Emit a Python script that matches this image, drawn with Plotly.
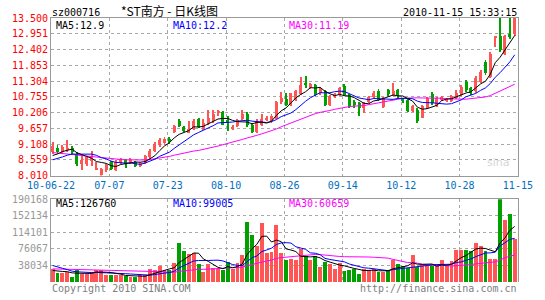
import plotly.graph_objects as go
import pandas as pd

# ---------------- data ----------------
stock_code = "sz000716"
chart_title = "*ST南方 - 日K线图"
time_stamp = "2010-11-15 15:33:15"

opens = [8.82, 8.97, 8.82, 8.91, 8.97, 8.76, 8.40, 8.40, 8.53, 8.22,
         8.04, 8.19, 8.48, 8.22, 8.48, 8.56, 8.48, 8.48, 8.36, 8.49,
         8.65, 8.87, 9.07, 9.14, 9.27, 9.53, 9.90, 9.69, 9.51, 9.62,
         9.97, 9.62, 9.85, 9.91, 10.20, 10.22, 9.93, 9.65, 9.74, 9.97,
         10.17, 9.79, 9.53, 9.77, 9.97, 9.91, 9.99, 10.56, 10.68, 10.48,
         10.65, 10.86, 11.20, 11.09, 11.17, 10.88, 10.94, 10.48, 10.77, 10.82,
         11.13, 10.82, 10.56, 10.54, 10.37, 10.59, 10.74, 10.96, 10.40, 11.00,
         10.82, 11.00, 10.68, 10.65, 10.25, 10.31, 10.03, 10.37, 10.85, 10.45,
         10.65, 10.63, 10.62, 10.71, 10.82, 11.28, 11.05, 10.94, 11.28, 11.97,
         11.45, 12.83, 12.88, 12.23, 12.94, 12.94]
highs = [9.18, 9.07, 9.07, 9.26, 9.03, 8.83, 8.71, 8.70, 8.86, 8.48,
         8.28, 8.42, 8.52, 8.56, 8.63, 8.59, 8.63, 8.52, 8.49, 8.73,
         8.94, 9.18, 9.31, 9.35, 9.37, 9.76, 9.97, 9.73, 9.91, 9.97,
         10.03, 9.97, 10.28, 10.31, 10.31, 10.27, 10.08, 9.79, 9.97, 10.31,
         10.24, 9.83, 9.97, 10.16, 10.07, 10.14, 10.62, 10.93, 10.88, 10.90,
         11.00, 11.45, 11.48, 11.24, 11.20, 11.10, 11.00, 10.82, 10.89, 11.10,
         11.20, 10.86, 10.65, 10.58, 10.58, 10.79, 10.96, 11.03, 10.75, 11.03,
         11.25, 11.03, 10.72, 10.69, 10.48, 10.38, 10.48, 10.75, 10.93, 10.75,
         10.79, 10.72, 10.82, 11.00, 11.17, 11.34, 11.10, 11.48, 11.68, 12.02,
         12.30, 12.87, 13.50, 12.92, 13.50, 13.50]
lows = [8.76, 8.76, 8.76, 8.82, 8.76, 8.35, 8.19, 8.35, 8.36, 8.19,
        8.01, 8.15, 8.22, 8.18, 8.42, 8.28, 8.42, 8.32, 8.32, 8.42,
        8.59, 8.83, 9.00, 9.07, 9.11, 9.49, 9.69, 9.52, 9.49, 9.59,
        9.66, 9.59, 9.79, 9.86, 10.08, 9.76, 9.56, 9.60, 9.69, 9.93,
        9.69, 9.49, 9.49, 9.73, 9.90, 9.86, 9.97, 10.51, 10.45, 10.45,
        10.62, 10.82, 11.05, 11.03, 10.79, 10.82, 10.45, 10.45, 10.72, 10.79,
        10.79, 10.38, 10.37, 10.08, 10.20, 10.55, 10.69, 10.62, 10.38, 10.79,
        10.79, 10.72, 10.55, 10.21, 10.21, 9.86, 10.00, 10.34, 10.48, 10.41,
        10.62, 10.58, 10.58, 10.69, 10.79, 10.93, 10.82, 10.89, 11.24, 11.51,
        11.41, 12.48, 12.30, 12.20, 12.78, 12.88]
closes = [9.05, 8.82, 9.02, 8.96, 8.82, 8.40, 8.56, 8.65, 8.65, 8.24,
          8.25, 8.39, 8.25, 8.50, 8.59, 8.40, 8.57, 8.36, 8.46, 8.70,
          8.88, 9.11, 9.25, 9.28, 9.25, 9.73, 9.73, 9.56, 9.62, 9.91,
          9.69, 9.86, 10.00, 10.14, 10.22, 9.79, 9.85, 9.67, 9.93, 10.17,
          9.76, 9.54, 9.91, 9.97, 10.02, 10.08, 10.56, 10.71, 10.48, 10.88,
          10.94, 11.17, 11.18, 11.20, 10.82, 11.05, 10.48, 10.77, 10.85, 11.05,
          10.82, 10.42, 10.50, 10.37, 10.54, 10.74, 10.90, 10.65, 10.71, 10.86,
          10.96, 10.77, 10.62, 10.25, 10.42, 9.91, 10.42, 10.71, 10.54, 10.71,
          10.74, 10.68, 10.77, 10.88, 11.11, 11.00, 10.88, 11.42, 11.62, 11.57,
          12.25, 12.86, 12.37, 12.88, 12.85, 13.49]
volumes = [30200, 20400, 20400, 22700, 11350, 26500, 18900, 18900, 22700, 28000,
           28000, 15100, 15100, 15100, 16600, 12900, 11350, 11350, 15100, 15100,
           30200, 28000, 36300, 28000, 28000, 43100, 89200, 69700, 64300, 66500,
           41600, 22700, 41600, 32500, 30200, 26500, 45400, 30200, 43900, 62000,
           136200, 108300, 83300, 134000, 65800, 68100, 130000, 65800, 50700, 52900,
           50700, 75700, 58300, 50700, 58300, 34000, 45400, 41600, 30200, 43100,
           25000, 27300, 30200, 18900, 30200, 26500, 30200, 22700, 22700, 27300,
           49200, 41600, 35600, 32500, 61300, 34000, 40100, 35600, 35600, 35600,
           49200, 35600, 48400, 73300, 74000, 72000, 71000, 88600, 83300, 70400,
           52900, 52000, 190168, 141500, 156700, 98300]

# sessions before the visible window (estimated so the MA lines start where the picture shows)
prior_closes = [9.40, 9.45, 9.35, 9.30, 9.20, 9.25, 9.10, 9.05, 9.00, 8.95,
                8.90, 8.85, 8.80, 8.75, 8.70, 8.65, 8.60, 8.55, 8.50, 8.45,
                8.45, 8.40, 8.35, 8.40, 8.45, 8.55, 8.60, 8.70, 8.65]
prior_volumes = [30000, 28000, 25000, 27000, 24000, 26000, 29000, 23000, 25000, 27000,
                 26000, 24000, 28000, 25000, 27000, 26000, 24000, 29000, 25000, 29000,
                 45000, 60000, 52000, 48000, 41500, 28000, 24000, 25300, 25000]

date_labels = ["10-06-22", "07-07", "07-23", "08-10", "08-26", "09-14", "10-12", "10-28", "11-15"]
price_ticks = ["8.010", "8.559", "9.108", "9.657", "10.206", "10.755",
               "11.304", "11.853", "12.402", "12.951", "13.500"]
vol_ticks = ["38034", "76067", "114101", "152134", "190168"]
price_ma_labels = ["MA5:12.9", "MA10:12.2", "MA30:11.19"]
vol_ma_labels = ["MA5:126760", "MA10:99005", "MA30:60659"]
copyright_text = "Copyright 2010 SINA.COM"
url_text = "http://finance.sina.com.cn"

# ---------------- derived ----------------
n = len(closes)
idx = list(range(n))
all_close = pd.Series(prior_closes + closes)
all_vol = pd.Series(prior_volumes + volumes)
k = len(prior_closes)
ma = {w: all_close.rolling(w).mean().iloc[k:].tolist() for w in (5, 10, 30)}
vma = {w: all_vol.rolling(w).mean().iloc[k:].tolist() for w in (5, 10, 30)}

RED = "#FF5555"
GREEN = "#00A000"
colors = [RED if c >= o else GREEN for o, c in zip(opens, closes)]
body_base = [min(o, c) for o, c in zip(opens, closes)]
body_len = [max(abs(c - o), 0.03) for o, c in zip(opens, closes)]
wick_len = [h - l for h, l in zip(highs, lows)]

FONT = "DejaVu Sans Mono"
GRID = "#A8A8A8"
FRAME = "#999999"

fig = go.Figure()
# wicks
fig.add_trace(go.Bar(x=idx, y=wick_len, base=lows, width=0.2, marker_color=colors,
                     marker_line_width=0, xaxis="x", yaxis="y"))
# bodies
fig.add_trace(go.Bar(x=idx, y=body_len, base=body_base, width=0.62, marker_color=colors,
                     marker_line_width=0, xaxis="x", yaxis="y"))
for w, col in ((30, "#FF00FF"), (10, "#0000FF"), (5, "#000000")):
    fig.add_trace(go.Scatter(x=idx, y=ma[w], mode="lines", line=dict(color=col, width=1),
                             xaxis="x", yaxis="y"))
# volume
fig.add_trace(go.Bar(x=idx, y=volumes, width=0.8, marker_color=colors,
                     marker_line_width=0, xaxis="x2", yaxis="y2"))
for w, col in ((30, "#FF00FF"), (10, "#0000FF"), (5, "#000000")):
    fig.add_trace(go.Scatter(x=idx, y=vma[w], mode="lines", line=dict(color=col, width=1),
                             xaxis="x2", yaxis="y2"))

x_range = [-0.34, n - 0.34 + 0.02]
grid_pos = [-0.34 + 12 * i for i in range(len(date_labels))]
price_vals = [float(t) for t in price_ticks]
vol_vals = [int(t) for t in vol_ticks]

axis_common = dict(showgrid=True, gridcolor=GRID, griddash="dot", gridwidth=1,
                   zeroline=False, ticks="", fixedrange=True)

fig.update_layout(
    width=545, height=300,
    margin=dict(l=50, r=15, t=17, b=15),
    paper_bgcolor="white", plot_bgcolor="white",
    showlegend=False, barmode="overlay", bargap=0,
    font=dict(family=FONT, size=10, color="#000000"),
    xaxis=dict(domain=[0, 1], anchor="y", range=x_range, tickvals=grid_pos, ticktext=date_labels,
               tickfont=dict(family=FONT, size=10, color="#0070C0"),
               showline=True, mirror=True, linecolor=FRAME, linewidth=1, **axis_common),
    yaxis=dict(domain=[108 / 268, 1], anchor="x", range=[price_vals[0], price_vals[-1]],
               tickvals=price_vals, ticktext=price_ticks,
               tickfont=dict(family=FONT, size=10, color="#FF0000"),
               showline=True, mirror=True, linecolor=FRAME, linewidth=1, **axis_common),
    xaxis2=dict(domain=[0, 1], anchor="y2", range=x_range, tickvals=grid_pos,
                showticklabels=False, side="top",
                showline=True, mirror=False, linecolor=FRAME, linewidth=1, **axis_common),
    yaxis2=dict(domain=[0, 84 / 268], anchor="x2", range=[0, vol_vals[-1]],
                tickvals=vol_vals, ticktext=vol_ticks,
                tickfont=dict(family=FONT, size=10, color="#999999"),
                showline=True, mirror=True, linecolor=FRAME, linewidth=1, **axis_common),
)


def px_x(x):
    return (x - 50) / 480


def px_y(y):
    return (285 - y) / 268


ann = []


def add_text(text, x, y, color, xanchor="left", size=10, family=FONT):
    ann.append(dict(text=text, x=px_x(x), y=px_y(y), xref="paper", yref="paper",
                    xanchor=xanchor, yanchor="middle", showarrow=False,
                    font=dict(family=family, size=size, color=color), borderpad=0))


add_text(stock_code, 50, 11, "#000000")
add_text(chart_title, 121, 9, "#000000", size=12, family="Noto Sans CJK SC")
add_text(time_stamp, 530, 11, "#000000", xanchor="right")
ma_cols = ["#000000", "#0000FF", "#FF00FF"]
for lbl, col, x in zip(price_ma_labels, ma_cols, (54, 174, 294)):
    add_text(lbl, x, 24.5, col)
for lbl, col, x in zip(vol_ma_labels, ma_cols, (54, 174, 294)):
    add_text(lbl, x, 205.5, col)
add_text(copyright_text, 50, 292, "#808080")
add_text(url_text, 530, 292, "#808080", xanchor="right")
add_text("sina", 497, 164, "#D6D6D6", size=11, family="DejaVu Sans")
fig.update_layout(annotations=ann)

fig.write_html("out.html")
